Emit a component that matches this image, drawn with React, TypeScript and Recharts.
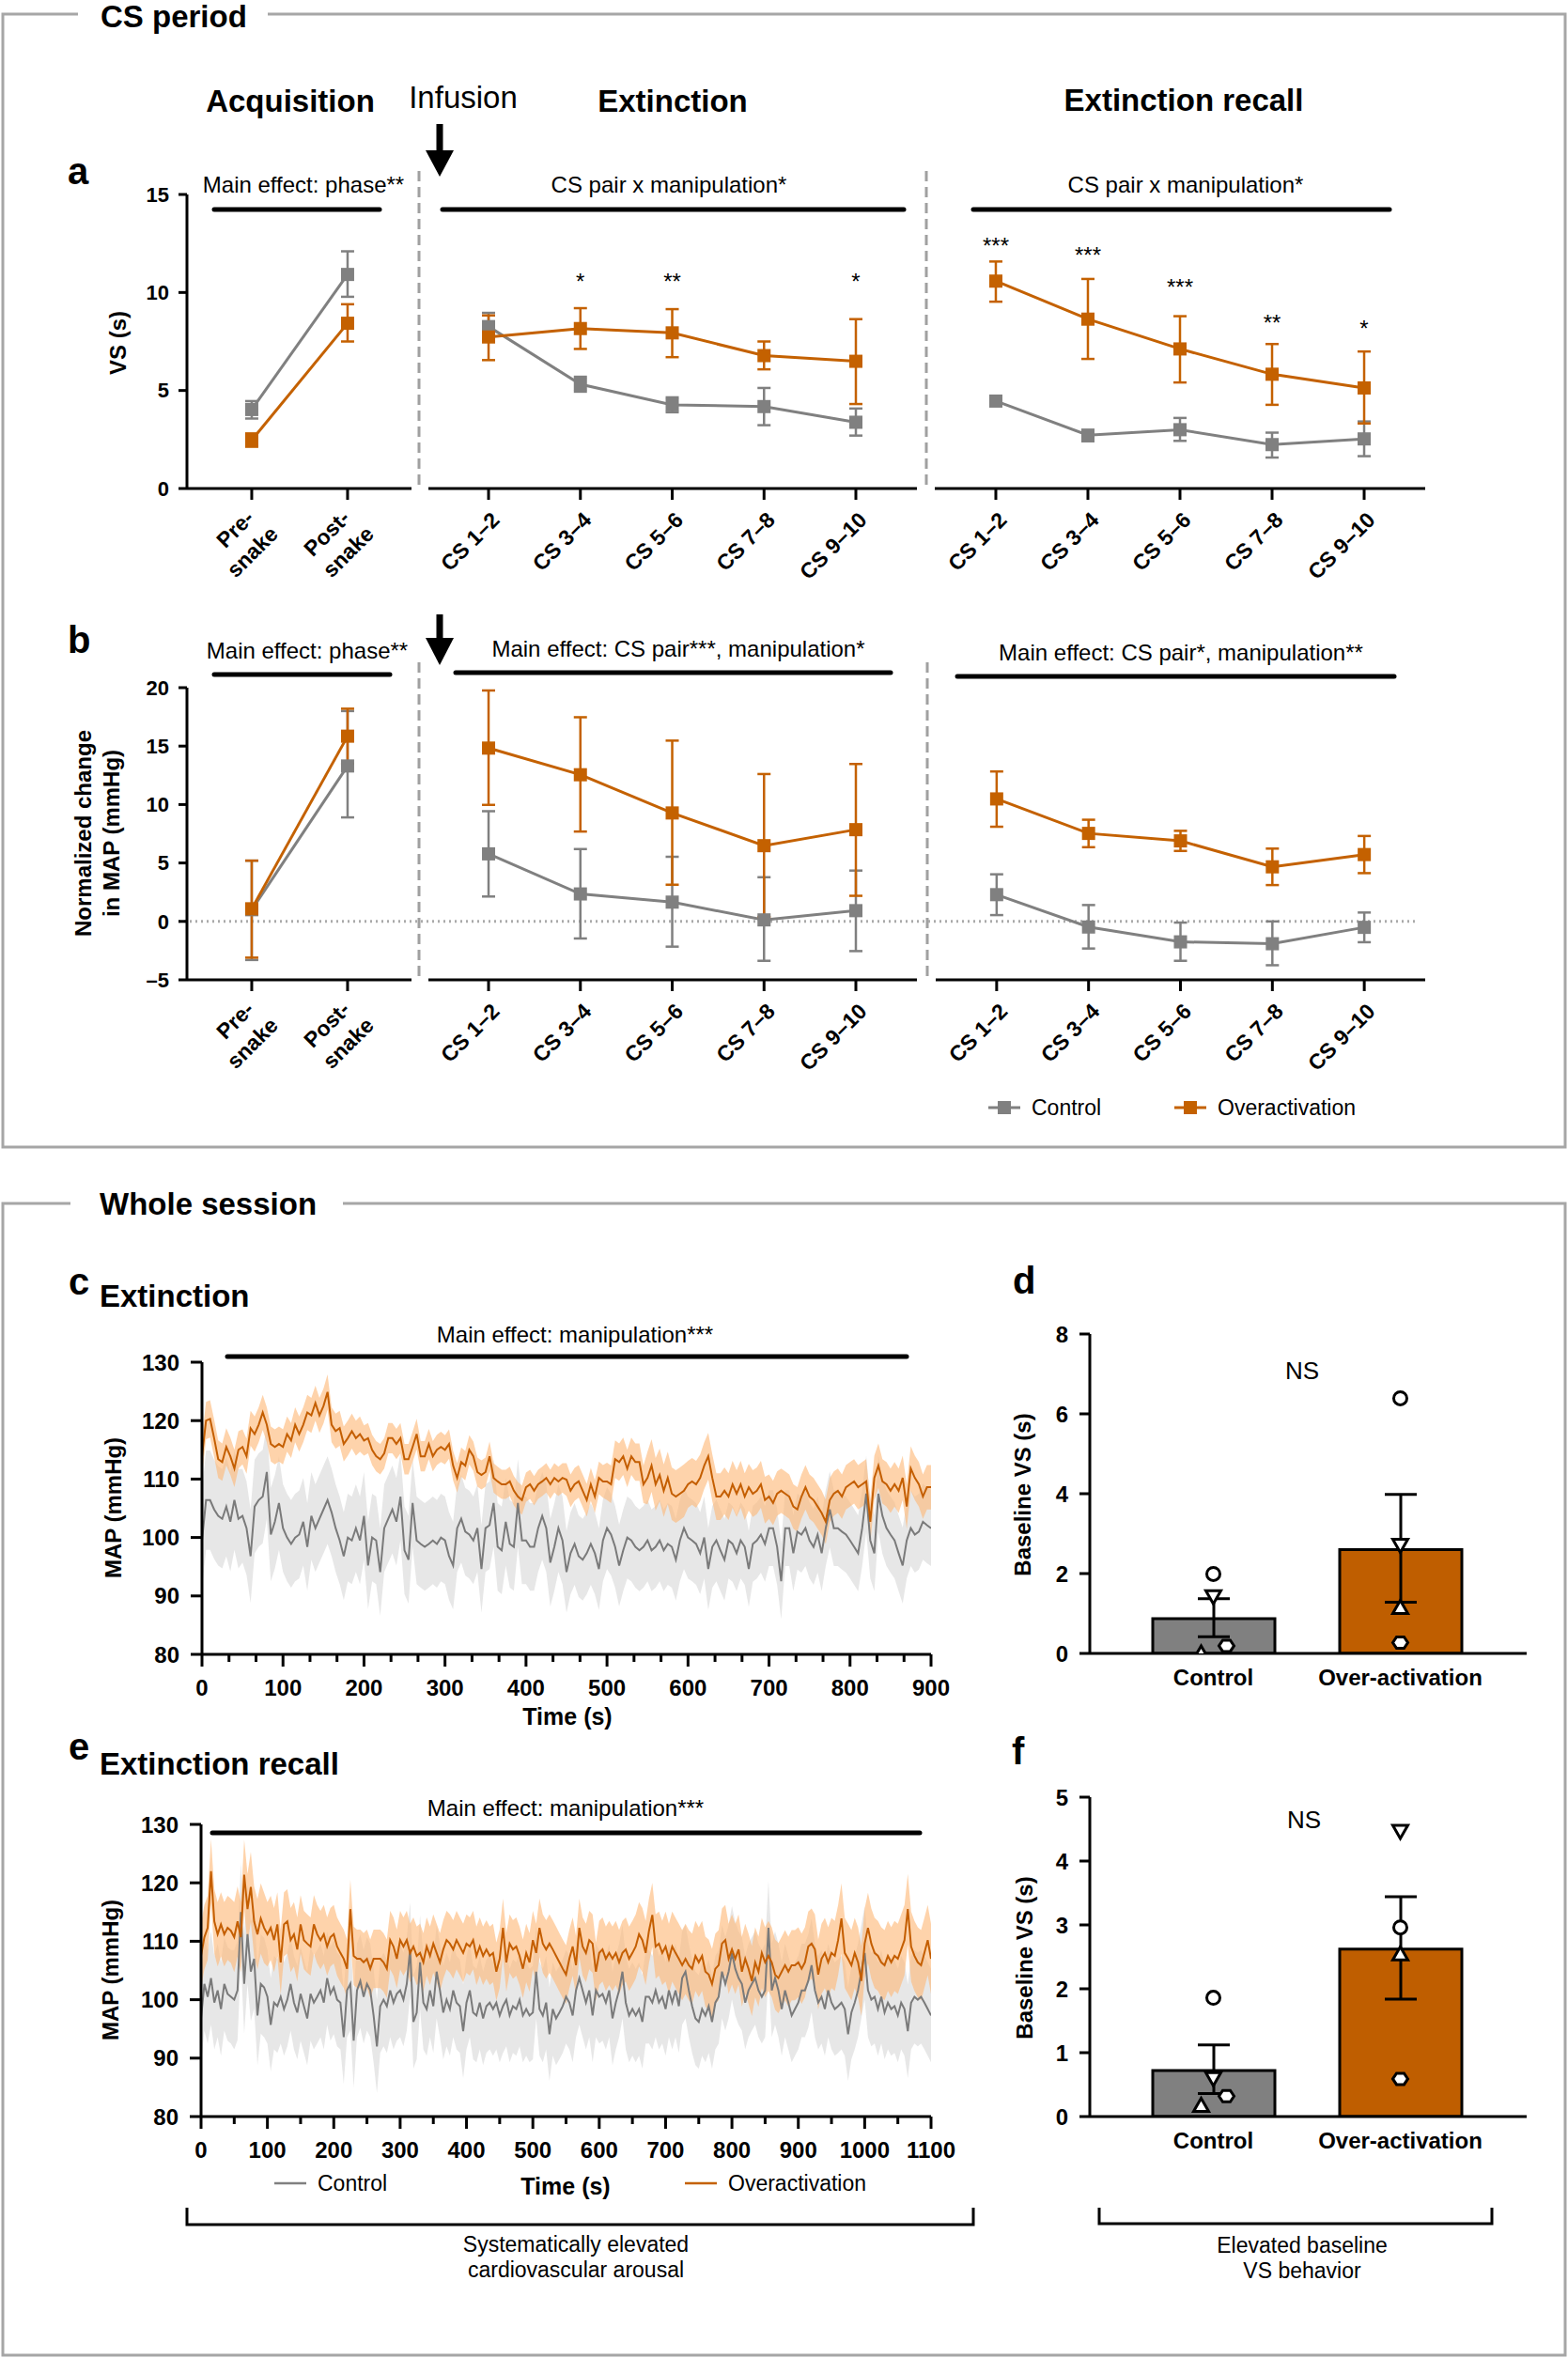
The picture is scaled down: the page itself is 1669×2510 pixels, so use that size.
import React from 'react';
import { ComposedChart, Line, Area, Bar, Cell, XAxis, YAxis, ErrorBar } from 'recharts';

// ─── Style ────────────────────────────────────────────────────────────────────
const FONT = "'Liberation Sans', Arial, Helvetica, sans-serif";
const ORANGE = '#C46100';
const GRAY = '#808080';
const BAR_ORANGE = '#BF5E00';
const BORDER = '#A6A6A6';

// ─── Data: CS period ─────────────────────────────────────────────────────────
const PHASES = ['Pre-\nsnake', 'Post-\nsnake'];
const CS_PAIRS = ['CS 1–2', 'CS 3–4', 'CS 5–6', 'CS 7–8', 'CS 9–10'];

// a — VS (s)
const VS_ACQ_CTL = [4.03, 10.92];
const VS_ACQ_CTL_LO = [3.57, 9.78];
const VS_ACQ_CTL_HI = [4.46, 12.1];
const VS_ACQ_OVR = [2.47, 8.43];
const VS_ACQ_OVR_LO = [2.13, 7.5];
const VS_ACQ_OVR_HI = [2.81, 9.4];

const VS_EXT_CTL = [8.26, 5.32, 4.27, 4.18, 3.38];
const VS_EXT_CTL_LO = [7.6, 4.94, 3.89, 3.23, 2.7];
const VS_EXT_CTL_HI = [8.96, 5.7, 4.65, 5.13, 4.08];
const VS_EXT_OVR = [7.73, 8.16, 7.94, 6.78, 6.49];
const VS_EXT_OVR_LO = [6.55, 7.12, 6.7, 6.08, 4.31];
const VS_EXT_OVR_HI = [8.83, 9.2, 9.15, 7.5, 8.64];
const VS_EXT_STARS = ['', '*', '**', '', '*'];

const VS_REC_CTL = [4.46, 2.72, 3.0, 2.24, 2.53];
const VS_REC_CTL_LO = [4.36, 2.41, 2.43, 1.58, 1.65];
const VS_REC_CTL_HI = [4.56, 2.98, 3.6, 2.85, 3.42];
const VS_REC_OVR = [10.58, 8.64, 7.12, 5.83, 5.13];
const VS_REC_OVR_LO = [9.53, 6.61, 5.41, 4.27, 3.32];
const VS_REC_OVR_HI = [11.58, 10.69, 8.79, 7.37, 6.99];
const VS_REC_STARS = ['***', '***', '***', '**', '*'];

// b — normalized change in MAP (mmHg)
const MAP_ACQ_CTL = [1.0, 13.3];
const MAP_ACQ_CTL_LO = [-3.3, 8.9];
const MAP_ACQ_CTL_HI = [5.2, 18.0];
const MAP_ACQ_OVR = [1.08, 15.85];
const MAP_ACQ_OVR_LO = [-3.1, 13.5];
const MAP_ACQ_OVR_HI = [5.2, 18.2];

const MAP_EXT_CTL = [5.78, 2.35, 1.65, 0.13, 0.92];
const MAP_EXT_CTL_LO = [2.13, -1.46, -2.16, -3.37, -2.54];
const MAP_EXT_CTL_HI = [9.43, 6.19, 5.53, 3.78, 4.35];
const MAP_EXT_OVR = [14.83, 12.55, 9.28, 6.48, 7.85];
const MAP_EXT_OVR_LO = [9.97, 7.69, 3.14, 0.38, 2.19];
const MAP_EXT_OVR_HI = [19.76, 17.47, 15.47, 12.61, 13.47];

const MAP_REC_CTL = [2.29, -0.48, -1.75, -1.91, -0.51];
const MAP_REC_CTL_LO = [0.54, -2.32, -3.37, -3.75, -1.78];
const MAP_REC_CTL_HI = [4.03, 1.4, -0.1, 0.0, 0.76];
const MAP_REC_OVR = [10.48, 7.53, 6.89, 4.67, 5.72];
const MAP_REC_OVR_LO = [8.1, 6.35, 6.03, 3.11, 4.13];
const MAP_REC_OVR_HI = [12.83, 8.7, 7.75, 6.23, 7.31];

// ─── Data: whole session, MAP traces (one value every 5 s) ───────────────────
const STEP_S = 5;
const SEM_BLOCK_S = 50;

const C_CTL = [
  99.5, 106.4, 106.4, 104.8, 103.7, 103.2, 105.3, 102.7, 106.4, 103.2,
  103.7, 101.6, 96.8, 105.3, 106.4, 107, 111.2, 100.5, 102.7, 105.9,
  101.6, 100, 98.9, 100, 100.5, 102.7, 98.4, 103.7, 101.6, 103.2,
  104.8, 106.4, 104.3, 101.6, 99.5, 96.8, 100, 99.5, 101.6, 99.5,
  103.7, 95.2, 100, 99.5, 94.1, 101.6, 103.2, 104.8, 102.7, 107,
  97.8, 96.2, 105.9, 99.5, 98.9, 98.4, 98.9, 99.5, 98.9, 100,
  99.5, 96.8, 95.2, 101.6, 103.2, 101, 100.5, 99.5, 101.6, 94.6,
  101.6, 102.1, 105.9, 98.4, 97.8, 102.7, 98.9, 98.4, 105.9, 99.5,
  99.5, 98.4, 98.4, 101.6, 103.7, 101.6, 95.7, 98.4, 101.6, 99.5,
  94.1, 97.3, 98.9, 96.8, 96.2, 97.3, 98.9, 97.3, 94.6, 99.5,
  101.6, 100.5, 98.4, 95.2, 97.8, 100, 99.5, 98.4, 97.8, 98.4,
  99.5, 97.8, 98.4, 99.5, 97.8, 98.9, 98.4, 96.2, 99.5, 101.6,
  100, 99.5, 98.9, 97.3, 100, 94.6, 98.4, 99.5, 97.8, 96.2,
  99.5, 98.9, 97.3, 99.5, 98.4, 94.6, 98.9, 99.5, 100.5, 98.9,
  101.6, 101.6, 98.4, 92.5, 101.6, 101.6, 97.3, 101, 100.5, 101.6,
  99.5, 98.4, 100.5, 97.3, 101.6, 104.8, 101.6, 101.6, 101, 100.5,
  99.5, 98.4, 97.3, 101.6, 107.5, 99.5, 97.3, 107.5, 103.7, 101.6,
  100.5, 99.5, 97.3, 95.2, 99.5, 101.6, 100.5, 101, 102.7, 102.1,
  101.6,
];
const C_OVR = [
  113.9, 120, 120.3, 117, 113.4, 112.9, 115.5, 113.9, 111.8, 115,
  115.5, 113.9, 118.7, 117.7, 119.3, 121.4, 119.3, 116, 115.5, 116,
  115.5, 117.7, 116.6, 119.3, 117.7, 119.3, 121.4, 120.9, 123, 120.9,
  122.5, 124.9, 119.3, 118.2, 118.7, 116, 117, 118.2, 117, 117.7,
  116.6, 117, 115, 113.9, 113.4, 114.4, 117, 117, 116, 117,
  113.4, 113.4, 115.5, 117.7, 113.9, 113.9, 116, 113.9, 115, 115.5,
  115, 116, 112.3, 110.2, 112.9, 112.3, 115, 113.9, 111.2, 110.7,
  111.2, 113.9, 110.2, 109.6, 109.1, 109.1, 109.6, 108, 107, 106.4,
  108.6, 109.1, 108, 109.1, 109.6, 110.2, 109.1, 110.2, 109.6, 110.2,
  109.9, 108, 109.1, 109.6, 108, 106.4, 109.1, 107, 110.2, 109.6,
  109.6, 109.1, 113.4, 112.9, 113.9, 111.8, 113.9, 112.9, 112.9, 109.1,
  110.2, 112.3, 109.1, 110.7, 108, 110.2, 107.5, 107, 107.5, 108,
  109.1, 109.6, 109.1, 110.2, 112.3, 113.9, 110.2, 107, 107, 108,
  107, 109.1, 107.5, 109.1, 107, 108.6, 107.5, 108, 109.1, 106.4,
  107, 105.9, 107.5, 108, 107.5, 107, 105.3, 104.8, 107, 108.6,
  107, 106.4, 105.3, 104.2, 102.7, 106.4, 107.5, 108, 107, 108.6,
  109.1, 109.6, 108.6, 109.1, 109.6, 102.7, 110.2, 112.3, 109.6, 109.1,
  108, 109.1, 108, 110.2, 105.3, 111.8, 110.2, 109.1, 107, 108.6,
  108.6,
];
// SEM half-width per 50 s block
const C_CTL_SEM = [8.5, 8, 7.5, 7.5, 7.5, 7.5, 7.5, 7.5, 7.5, 7, 7, 7, 7, 6.5, 6.5, 6.5, 6.5, 6.5, 6.5];
const C_OVR_SEM = [3.2, 3, 3, 3, 2.6, 2.6, 2.5, 2.5, 2.5, 2.8, 3.2, 4.5, 4, 4, 3.8, 3.8, 3.8, 3.8, 3.8];
const C_TIME_LABELS = [0, 100, 200, 300, 400, 500, 600, 700, 800, 900];

const E_CTL = [
  96.8, 102.7, 100.5, 103.7, 99.5, 101.6, 98.4, 102.7, 101, 100.5,
  100, 101.6, 115, 102.7, 111.2, 104.8, 107, 97.3, 102.7, 102.1,
  100.5, 95.7, 99.5, 98.9, 100.5, 98.4, 100, 102.7, 99.5, 97.8,
  101, 98.9, 96.8, 101, 99.5, 100.5, 101.6, 99.5, 103.7, 101,
  102.1, 100, 99.5, 93.6, 101.6, 102.7, 93, 101.6, 103.2, 100.5,
  102.7, 101.6, 97.3, 92, 98.9, 100, 98.9, 101.6, 99.5, 101,
  101.6, 100, 102.7, 108.6, 96.2, 97.8, 106.4, 99.5, 98.4, 101.6,
  98.9, 104.8, 101.6, 97.8, 100, 98.4, 101.6, 99.5, 98.9, 94.6,
  99.5, 101.6, 97.8, 97.3, 99.5, 96.8, 98.9, 99.5, 98.4, 99.5,
  97.3, 98.9, 100, 97.3, 98.9, 98.4, 100, 97.3, 98.4, 97.3,
  97.8, 104.8, 98.4, 97.3, 99.5, 94.1, 98.4, 96.8, 97.8, 98.9,
  100.5, 99.5, 97.3, 101.6, 103.7, 101.6, 99.5, 101.6, 97.3, 101.6,
  100.5, 101, 99.5, 101.6, 96.8, 99.5, 101.6, 104.8, 99.5, 97.3,
  98.4, 97.3, 98.4, 96.2, 100.5, 100.5, 99.5, 101.6, 99.5, 100.5,
  98.4, 101.6, 99.5, 101.6, 98.9, 103.7, 104.8, 101.6, 98.9, 96.8,
  96.2, 98.4, 97.3, 98.9, 96.2, 99.5, 100.5, 104.8, 102.7, 104.8,
  108, 105.3, 103.7, 102.7, 99.5, 101.6, 102.7, 103.7, 101.6, 100.5,
  101.6, 112.3, 101.6, 103.7, 101.6, 98.4, 101.6, 99.5, 97.3, 98.4,
  99.5, 101.6, 101.6, 103.2, 105.9, 101.6, 99.5, 100.5, 98.4, 101.6,
  99.5, 98.4, 98.9, 99.5, 98.4, 94.1, 97.8, 99.5, 101.6, 104.8,
  108, 101.6, 100, 100.5, 98.4, 100.5, 97.8, 99.5, 98.4, 98.9,
  97.3, 99.5, 98.4, 94.6, 99.5, 100.5, 100, 100.5, 99.5, 98.4,
  97.3,
];
const E_OVR = [
  107.5, 110.7, 112.3, 122, 113.4, 111.2, 112.9, 111.2, 112.3, 111.8,
  110.7, 113.4, 110.7, 121.4, 115.5, 119.3, 113.4, 111.2, 113.9, 112.3,
  111.2, 112.3, 110.2, 112.9, 106.4, 112.9, 113.4, 110.2, 111.2, 108.6,
  112.9, 110.2, 109.6, 109.1, 112.9, 111.2, 110.2, 111.2, 109.1, 110.7,
  111.2, 109.1, 108, 107, 105.3, 115.5, 107.5, 107, 107, 106.4,
  107, 105.3, 107, 107, 107, 106.4, 105.3, 110.2, 109.1, 107,
  110.2, 109.1, 110.2, 108, 109.1, 107.5, 108, 106.4, 109.1, 107.5,
  109.6, 108, 106.4, 108.6, 110.2, 109.6, 108.6, 110.2, 109.1, 108,
  109.6, 109.1, 110.2, 107.5, 109.1, 107.5, 108.6, 107.5, 108, 104.8,
  107, 112.3, 106.4, 109.6, 108.6, 109.1, 107.5, 105.3, 108, 106.4,
  110.2, 108, 112.3, 109.6, 108.6, 109.6, 108.6, 107.5, 106.4, 105.3,
  104.3, 107, 109.1, 105.9, 112.3, 109.1, 108, 110.2, 109.6, 104.8,
  108, 108.6, 107, 108, 107, 108, 106.4, 108, 108.6, 107,
  108, 109.1, 111.2, 110.2, 108, 111.8, 114.5, 109.1, 109.6, 108,
  109.1, 107, 109.1, 108, 107, 105.9, 107, 105.9, 105.3, 107.5,
  106.4, 107.5, 104.8, 104.3, 102.7, 105.3, 105.9, 109.6, 110.2, 107,
  108.6, 107, 108.6, 104.8, 107, 105.3, 103.2, 106.4, 104.8, 108,
  106.4, 107.5, 106.4, 104.3, 103.7, 104.8, 105.9, 104.8, 105.9, 105.9,
  106.4, 105.3, 106.4, 109.1, 109.6, 108.6, 104.3, 107, 108, 106.4,
  108, 107.5, 110.2, 113.9, 108, 107, 105.9, 108, 106.4, 103.2,
  109.6, 112.3, 109.6, 108, 107.5, 106.4, 105.9, 107.5, 106.4, 107.5,
  107, 108.6, 110.2, 115.5, 109.1, 107.5, 106.4, 105.9, 108, 110.2,
  107,
];
const E_CTL_SEM = [8, 8.5, 8, 8, 8, 8, 8, 8, 8, 8, 8, 8, 8, 8, 8, 8, 8, 8, 8, 8, 8, 8, 8];
const E_OVR_SEM = [5.5, 6, 5.5, 5, 5, 5, 5, 5, 5, 5, 5, 5, 5.5, 5.5, 6, 6, 6, 6, 6, 6, 6, 6, 6];
const E_TIME_LABELS = [0, 100, 200, 300, 400, 500, 600, 700, 800, 900, 1000, 1100];

// ─── Data: baseline VS (d, f) ─────────────────────────────────────────────────
const GROUPS = ['Control', 'Over-activation'];
const SUBJECT_KEYS = ['circle', 'down', 'up', 'hex'];
const D_MEAN = [0.87, 2.6];
const D_LO = [0.42, 1.28];
const D_HI = [1.37, 3.98];
const D_CTL_PTS = [1.99, 1.43, 0.0, 0.19];
const D_OVR_PTS = [6.39, 2.72, 1.14, 0.27];
const F_MEAN = [0.72, 2.62];
const F_LO = [0.36, 1.84];
const F_HI = [1.12, 3.44];
const F_CTL_PTS = [1.86, 0.6, 0.17, 0.32];
const F_OVR_PTS = [2.96, 4.47, 2.54, 0.59];

// ─── Layout helpers ───────────────────────────────────────────────────────────
type Rect = { x: number; y: number; w: number; h: number };
const PAD = 24;
const PAD_R = 48;

function frame(plot: Rect, yAxisW: number, xAxisH: number) {
  return {
    style: { position: 'absolute' as const, left: plot.x - yAxisW - PAD, top: plot.y - PAD },
    width: plot.w + yAxisW + PAD + PAD_R,
    height: plot.h + xAxisH + 2 * PAD,
    margin: { top: PAD, right: PAD_R, bottom: PAD, left: PAD },
  };
}

const A_ACQ: Rect = { x: 199, y: 207, w: 239, h: 313 };
const A_EXT: Rect = { x: 456, y: 207, w: 520, h: 313 };
const A_REC: Rect = { x: 995, y: 207, w: 522, h: 313 };
const B_ACQ: Rect = { x: 199, y: 732, w: 239, h: 311 };
const B_EXT: Rect = { x: 456, y: 732, w: 520, h: 311 };
const B_REC: Rect = { x: 996, y: 732, w: 521, h: 311 };
const C_PLOT: Rect = { x: 215, y: 1450, w: 776, h: 311 };
const D_PLOT: Rect = { x: 1160, y: 1420, w: 465, h: 340 };
const E_PLOT: Rect = { x: 214, y: 1942, w: 777, h: 311 };
const F_PLOT: Rect = { x: 1160, y: 1913, w: 465, h: 340 };

const ACQ_X = [-0.676, 1.667];
const EXT_X = [-0.655, 4.665];
const REC_X = [-0.663, 4.663];

const AXIS = { stroke: '#000', strokeWidth: 3 };
const TICK_FONT = { fontSize: 22, fontWeight: 'bold', fill: '#000', fontFamily: FONT };

// ─── Building tables ──────────────────────────────────────────────────────────
function catRows(
  ctl: number[], ctlLo: number[], ctlHi: number[],
  ovr: number[], ovrLo: number[], ovrHi: number[],
  stars?: string[], starAt?: number[],
) {
  return ctl.map((v, i) => ({
    x: i,
    ctl: v,
    ctlErr: [v - ctlLo[i], ctlHi[i] - v],
    ovr: ovr[i],
    ovrErr: [ovr[i] - ovrLo[i], ovrHi[i] - ovr[i]],
    star: stars ? stars[i] : '',
    starY: stars && stars[i] && starAt ? starAt[i] : null,
  }));
}

function traceRows(ctl: number[], ovr: number[], ctlSem: number[], ovrSem: number[]) {
  return ctl.map((v, i) => {
    const t = i * STEP_S;
    const b = Math.floor(t / SEM_BLOCK_S);
    return {
      t,
      ctl: v,
      ovr: ovr[i],
      ctlBand: [v - ctlSem[b], v + ctlSem[b]],
      ovrBand: [ovr[i] - ovrSem[b], ovr[i] + ovrSem[b]],
    };
  });
}

function barRows(mean: number[], lo: number[], hi: number[], ctlPts: number[], ovrPts: number[]) {
  return GROUPS.map((g, i) => {
    const pts = i === 0 ? ctlPts : ovrPts;
    const row: any = { g, mean: mean[i], err: [mean[i] - lo[i], hi[i] - mean[i]] };
    SUBJECT_KEYS.forEach((k, j) => { row[k] = pts[j]; });
    return row;
  });
}

function withMinor(labels: number[], parts: number) {
  const out: number[] = [];
  for (let i = 0; i < labels.length - 1; i++) {
    for (let j = 0; j < parts; j++) out.push(labels[i] + ((labels[i + 1] - labels[i]) * j) / parts);
  }
  out.push(labels[labels.length - 1]);
  return out;
}

// ─── Ticks & marks ────────────────────────────────────────────────────────────
const SlantTick = (p: any) => {
  const lines = String(p.labels[p.payload.value] ?? '').split('\n');
  return (
    <g transform={`translate(${p.x + 13},${p.y + 23}) rotate(-45)`}>
      <text textAnchor="end" fontSize={23} fontWeight="bold" fill="#000" fontFamily={FONT}>
        {lines.length === 1
          ? <tspan x={0} y={0}>{lines[0]}</tspan>
          : lines.map((l, i) => (
            <tspan key={i} x={i === 0 ? -5 : 1} y={i === 0 ? -8 : 22}>{l}</tspan>
          ))}
      </text>
    </g>
  );
};

const TimeTick = (p: any) => {
  const v = p.payload.value;
  const major = Math.abs(v / 100 - Math.round(v / 100)) < 1e-6;
  return (
    <g>
      <line x1={p.x} x2={p.x} y1={p.y} y2={p.y + (major ? 13 : 8)} stroke="#000" strokeWidth={3} />
      {major && (
        <text x={p.x} y={p.y + 44} textAnchor="middle" fontSize={24} fontWeight="bold" fill="#000" fontFamily={FONT}>
          {Math.round(v)}
        </text>
      )}
    </g>
  );
};

const GroupTick = (p: any) => (
  <text x={p.x} y={p.y + 34} textAnchor="middle" fontSize={24} fontWeight="bold" fill="#000" fontFamily={FONT}>
    {p.payload.value}
  </text>
);

const squareDot = (color: string) => (p: any) => {
  if (p.cx == null || p.cy == null) return <g key={`n${p.index}`} />;
  return <rect key={`s${p.index}`} x={p.cx - 7} y={p.cy - 7} width={14} height={14} fill={color} />;
};

const starDot = (p: any) => {
  if (p.cy == null || !p.payload.star) return <g key={`n${p.index}`} />;
  return (
    <text key={`t${p.index}`} x={p.cx} y={p.cy + 14} textAnchor="middle" fontSize={24} fill="#000" fontFamily={FONT}>
      {p.payload.star}
    </text>
  );
};

const JITTER: Record<string, number> = { up: -13, hex: 14 };
const subjectDot = (kind: string) => (p: any) => {
  if (p.cx == null || p.cy == null) return <g key={`n${p.index}`} />;
  const cx = p.cx + (p.payload.g === GROUPS[0] ? JITTER[kind] ?? 0 : 0);
  const cy = p.cy;
  const st = { fill: '#fff', stroke: '#000', strokeWidth: 3 };
  if (kind === 'circle') return <circle key={`c${p.index}`} cx={cx} cy={cy} r={7} {...st} />;
  if (kind === 'down') return <polygon key={`d${p.index}`} points={`${cx - 8},${cy - 6} ${cx + 8},${cy - 6} ${cx},${cy + 8}`} {...st} />;
  if (kind === 'up') return <polygon key={`u${p.index}`} points={`${cx - 8},${cy + 6} ${cx + 8},${cy + 6} ${cx},${cy - 8}`} {...st} />;
  return (
    <polygon
      key={`h${p.index}`}
      points={`${cx - 8},${cy} ${cx - 4},${cy - 6} ${cx + 4},${cy - 6} ${cx + 8},${cy} ${cx + 4},${cy + 6} ${cx - 4},${cy + 6}`}
      {...st}
    />
  );
};

// ─── CS-period panel (one phase) ─────────────────────────────────────────────
type CatProps = {
  plot: Rect; rows: any[]; labels: string[]; xDomain: number[];
  yDomain: number[]; yTicks?: number[]; showY?: boolean;
};

const CatPanel: React.FC<CatProps> = ({ plot, rows, labels, xDomain, yDomain, yTicks, showY }) => {
  const f = frame(plot, showY ? 70 : 0, 110);
  return (
    <div style={f.style}>
      <ComposedChart width={f.width} height={f.height} data={rows} margin={f.margin}>
        <XAxis
          dataKey="x" type="number" domain={xDomain} allowDataOverflow
          ticks={labels.map((_, i) => i)} interval={0}
          axisLine={AXIS} tickLine={AXIS} tickSize={12} tickMargin={0} height={110}
          tick={<SlantTick labels={labels} />}
        />
        {showY ? (
          <YAxis
            domain={yDomain} ticks={yTicks} allowDataOverflow width={70}
            axisLine={AXIS} tickLine={AXIS} tickSize={9} tickMargin={10} tick={TICK_FONT}
            tickFormatter={(v: number) => (v < 0 ? `–${Math.abs(v)}` : `${v}`)}
          />
        ) : (
          <YAxis hide domain={yDomain} allowDataOverflow />
        )}
        <Line
          dataKey="ctl" stroke={GRAY} strokeWidth={3} dot={squareDot(GRAY)} activeDot={false}
          isAnimationActive={false}
        >
          <ErrorBar dataKey="ctlErr" width={7} stroke={GRAY} strokeWidth={2.5} />
        </Line>
        <Line
          dataKey="ovr" stroke={ORANGE} strokeWidth={3} dot={squareDot(ORANGE)} activeDot={false}
          isAnimationActive={false}
        >
          <ErrorBar dataKey="ovrErr" width={7} stroke={ORANGE} strokeWidth={2.5} />
        </Line>
        <Line dataKey="starY" stroke="none" dot={starDot} activeDot={false} isAnimationActive={false} />
      </ComposedChart>
    </div>
  );
};

// ─── Whole-session MAP trace ─────────────────────────────────────────────────
type TraceProps = { plot: Rect; rows: any[]; xMax: number; labels: number[]; minorParts: number };

const TracePanel: React.FC<TraceProps> = ({ plot, rows, xMax, labels, minorParts }) => {
  const f = frame(plot, 70, 60);
  return (
    <div style={f.style}>
      <ComposedChart width={f.width} height={f.height} data={rows} margin={f.margin}>
        <XAxis
          dataKey="t" type="number" domain={[0, xMax]} allowDataOverflow
          ticks={withMinor(labels, minorParts)} interval={0}
          axisLine={AXIS} tickLine={false} tickSize={0} tickMargin={0} height={60}
          tick={<TimeTick />}
        />
        <YAxis
          domain={[80, 130]} ticks={[80, 90, 100, 110, 120, 130]} allowDataOverflow width={70}
          axisLine={AXIS} tickLine={AXIS} tickSize={12} tickMargin={12}
          tick={{ ...TICK_FONT, fontSize: 24 }}
        />
        <Area dataKey="ctlBand" stroke="none" fill="#E4E4E4" fillOpacity={0.9} isAnimationActive={false} activeDot={false} />
        <Area dataKey="ovrBand" stroke="none" fill="#FDB878" fillOpacity={0.62} isAnimationActive={false} activeDot={false} />
        <Line dataKey="ctl" stroke="#7A7A7A" strokeWidth={2} dot={false} activeDot={false} isAnimationActive={false} />
        <Line dataKey="ovr" stroke="#C45E00" strokeWidth={2} dot={false} activeDot={false} isAnimationActive={false} />
      </ComposedChart>
    </div>
  );
};

// ─── Baseline VS bars ─────────────────────────────────────────────────────────
type BarProps = { plot: Rect; rows: any[]; yMax: number; yTicks: number[] };

const BaselinePanel: React.FC<BarProps> = ({ plot, rows, yMax, yTicks }) => {
  const f = frame(plot, 70, 50);
  return (
    <div style={f.style}>
      <ComposedChart width={f.width} height={f.height} data={rows} margin={f.margin}>
        <XAxis
          dataKey="g" type="category" padding={{ left: 32, right: 35 }} interval={0}
          axisLine={AXIS} tickLine={false} tickSize={0} tickMargin={0} height={50}
          tick={<GroupTick />}
        />
        <YAxis
          domain={[0, yMax]} ticks={yTicks} allowDataOverflow width={70}
          axisLine={AXIS} tickLine={AXIS} tickSize={11} tickMargin={12}
          tick={{ ...TICK_FONT, fontSize: 24 }}
        />
        <Bar dataKey="mean" barSize={130} stroke="#000" strokeWidth={3} isAnimationActive={false}>
          {rows.map((_, i) => <Cell key={i} fill={i === 0 ? GRAY : BAR_ORANGE} />)}
          <ErrorBar dataKey="err" width={17} stroke="#000" strokeWidth={3} />
        </Bar>
        {SUBJECT_KEYS.map((k) => (
          <Line
            key={k} dataKey={k} stroke="none" dot={subjectDot(k)} activeDot={false}
            isAnimationActive={false}
          />
        ))}
      </ComposedChart>
    </div>
  );
};

// ─── Figure annotations ───────────────────────────────────────────────────────
const T: React.FC<any> = (props) => <text fontFamily={FONT} fill="#000" {...props} />;

const Arrow: React.FC<{ x: number; top: number; headTop: number; bottom: number }> = ({ x, top, headTop, bottom }) => (
  <g>
    <rect x={x - 3.5} y={top} width={7} height={headTop - top + 2} fill="#000" />
    <polygon points={`${x - 15},${headTop} ${x + 15},${headTop} ${x},${bottom}`} fill="#000" />
  </g>
);

const StatBar: React.FC<{ x1: number; x2: number; y: number }> = ({ x1, x2, y }) => (
  <line x1={x1} x2={x2} y1={y} y2={y} stroke="#000" strokeWidth={5} strokeLinecap="round" />
);

const VLabel: React.FC<{ x: number; y: number; children: React.ReactNode }> = ({ x, y, children }) => (
  <T transform={`translate(${x} ${y}) rotate(-90)`} textAnchor="middle" dominantBaseline="central" fontSize={24} fontWeight="bold">
    {children}
  </T>
);

const Overlay: React.FC = () => {
  const zeroY = B_ACQ.y + (20 / 25) * B_ACQ.h;
  return (
    <svg width={1669} height={2510} style={{ position: 'absolute', left: 0, top: 0 }}>
      {/* frames */}
      <path d="M83 15 H3 V1221 H1666 V15 H285" fill="none" stroke={BORDER} strokeWidth={3} />
      <path d="M75 1281 H3 V2507 H1666 V1281 H365" fill="none" stroke={BORDER} strokeWidth={3} />
      <T x={107} y={29} fontSize={33} fontWeight="bold">CS period</T>
      <T x={106} y={1293} fontSize={33} fontWeight="bold">Whole session</T>

      {/* phase headings */}
      <T x={309} y={119} fontSize={33} fontWeight="bold" textAnchor="middle">Acquisition</T>
      <T x={493} y={115} fontSize={33} textAnchor="middle">Infusion</T>
      <T x={716} y={119} fontSize={33} fontWeight="bold" textAnchor="middle">Extinction</T>
      <T x={1260} y={118} fontSize={33} fontWeight="bold" textAnchor="middle">Extinction recall</T>

      {/* panel a */}
      <T x={72} y={196} fontSize={40} fontWeight="bold">a</T>
      <Arrow x={468} top={132} headTop={160} bottom={188} />
      <T x={323} y={205} fontSize={24} textAnchor="middle">Main effect: phase**</T>
      <T x={712} y={205} fontSize={24} textAnchor="middle">CS pair x manipulation*</T>
      <T x={1262} y={205} fontSize={24} textAnchor="middle">CS pair x manipulation*</T>
      <StatBar x1={228} x2={404} y={223} />
      <StatBar x1={471} x2={962} y={223} />
      <StatBar x1={1036} x2={1479} y={223} />
      <line x1={446} x2={446} y1={182} y2={520} stroke="#A0A0A0" strokeWidth={3} strokeDasharray="11 6" />
      <line x1={986} x2={986} y1={182} y2={520} stroke="#A0A0A0" strokeWidth={3} strokeDasharray="11 6" />
      <VLabel x={125} y={365}>VS (s)</VLabel>

      {/* panel b */}
      <T x={72} y={695} fontSize={40} fontWeight="bold">b</T>
      <Arrow x={468} top={654} headTop={679} bottom={708} />
      <T x={327} y={701} fontSize={24} textAnchor="middle">Main effect: phase**</T>
      <T x={722} y={699} fontSize={24} textAnchor="middle">Main effect: CS pair***, manipulation*</T>
      <T x={1257} y={703} fontSize={24} textAnchor="middle">Main effect: CS pair*, manipulation**</T>
      <StatBar x1={228} x2={415} y={718} />
      <StatBar x1={485} x2={948} y={716} />
      <StatBar x1={1019} x2={1484} y={720} />
      <line x1={446} x2={446} y1={705} y2={1045} stroke="#A0A0A0" strokeWidth={3} strokeDasharray="11 6" />
      <line x1={987} x2={987} y1={705} y2={1045} stroke="#A0A0A0" strokeWidth={3} strokeDasharray="11 6" />
      <line x1={190} x2={1507} y1={zeroY} y2={zeroY} stroke="#AAAAAA" strokeWidth={3} strokeDasharray="2 4" />
      <VLabel x={88} y={887}>Normalized change</VLabel>
      <VLabel x={118} y={887}>in MAP (mmHg)</VLabel>
      <line x1={1052} x2={1086} y1={1179} y2={1179} stroke={GRAY} strokeWidth={3} />
      <rect x={1062} y={1172} width={14} height={14} fill={GRAY} />
      <T x={1098} y={1187} fontSize={23}>Control</T>
      <line x1={1250} x2={1284} y1={1179} y2={1179} stroke={ORANGE} strokeWidth={3} />
      <rect x={1260} y={1172} width={14} height={14} fill={ORANGE} />
      <T x={1296} y={1187} fontSize={23}>Overactivation</T>

      {/* panel c */}
      <T x={73} y={1378} fontSize={40} fontWeight="bold">c</T>
      <T x={106} y={1391} fontSize={33} fontWeight="bold">Extinction</T>
      <T x={612} y={1429} fontSize={24} textAnchor="middle">Main effect: manipulation***</T>
      <StatBar x1={242} x2={965} y={1444} />
      <T x={604} y={1836} fontSize={25} fontWeight="bold" textAnchor="middle">Time (s)</T>
      <VLabel x={120} y={1605}>MAP (mmHg)</VLabel>

      {/* panel d */}
      <T x={1078} y={1377} fontSize={40} fontWeight="bold">d</T>
      <T x={1386} y={1468} fontSize={26} textAnchor="middle">NS</T>
      <VLabel x={1088} y={1591}>Baseline VS (s)</VLabel>

      {/* panel e */}
      <T x={73} y={1873} fontSize={40} fontWeight="bold">e</T>
      <T x={106} y={1889} fontSize={33} fontWeight="bold">Extinction recall</T>
      <T x={602} y={1933} fontSize={24} textAnchor="middle">Main effect: manipulation***</T>
      <StatBar x1={226} x2={979} y={1951} />
      <T x={602} y={2336} fontSize={25} fontWeight="bold" textAnchor="middle">Time (s)</T>
      <VLabel x={117} y={2097}>MAP (mmHg)</VLabel>
      <line x1={292} x2={326} y1={2324} y2={2324} stroke={GRAY} strokeWidth={2.5} />
      <T x={338} y={2332} fontSize={23}>Control</T>
      <line x1={729} x2={763} y1={2324} y2={2324} stroke={ORANGE} strokeWidth={2.5} />
      <T x={775} y={2332} fontSize={23}>Overactivation</T>
      <path d="M199 2350 V2368 H1036 V2350" fill="none" stroke="#000" strokeWidth={3} />
      <T x={613} y={2397} fontSize={23} textAnchor="middle">Systematically elevated</T>
      <T x={613} y={2424} fontSize={23} textAnchor="middle">cardiovascular arousal</T>

      {/* panel f */}
      <T x={1077} y={1878} fontSize={40} fontWeight="bold">f</T>
      <T x={1388} y={1946} fontSize={26} textAnchor="middle">NS</T>
      <VLabel x={1090} y={2084}>Baseline VS (s)</VLabel>
      <path d="M1170 2350 V2367 H1588 V2350" fill="none" stroke="#000" strokeWidth={3} />
      <T x={1386} y={2398} fontSize={23} textAnchor="middle">Elevated baseline</T>
      <T x={1386} y={2425} fontSize={23} textAnchor="middle">VS behavior</T>
    </svg>
  );
};

// ─── App ──────────────────────────────────────────────────────────────────────
export default function App() {
  const vsAcq = catRows(VS_ACQ_CTL, VS_ACQ_CTL_LO, VS_ACQ_CTL_HI, VS_ACQ_OVR, VS_ACQ_OVR_LO, VS_ACQ_OVR_HI);
  const vsExt = catRows(VS_EXT_CTL, VS_EXT_CTL_LO, VS_EXT_CTL_HI, VS_EXT_OVR, VS_EXT_OVR_LO, VS_EXT_OVR_HI,
    VS_EXT_STARS, [10.83, 10.83, 10.83, 10.83, 10.83]);
  const vsRec = catRows(VS_REC_CTL, VS_REC_CTL_LO, VS_REC_CTL_HI, VS_REC_OVR, VS_REC_OVR_LO, VS_REC_OVR_HI,
    VS_REC_STARS, [12.65, 12.17, 10.54, 8.72, 8.43]);
  const mapAcq = catRows(MAP_ACQ_CTL, MAP_ACQ_CTL_LO, MAP_ACQ_CTL_HI, MAP_ACQ_OVR, MAP_ACQ_OVR_LO, MAP_ACQ_OVR_HI);
  const mapExt = catRows(MAP_EXT_CTL, MAP_EXT_CTL_LO, MAP_EXT_CTL_HI, MAP_EXT_OVR, MAP_EXT_OVR_LO, MAP_EXT_OVR_HI);
  const mapRec = catRows(MAP_REC_CTL, MAP_REC_CTL_LO, MAP_REC_CTL_HI, MAP_REC_OVR, MAP_REC_OVR_LO, MAP_REC_OVR_HI);

  return (
    <div style={{ position: 'absolute', left: 0, top: 0, width: 1669, height: 2510, background: '#fff', fontFamily: FONT }}>
      <Overlay />
      <CatPanel plot={A_ACQ} rows={vsAcq} labels={PHASES} xDomain={ACQ_X} yDomain={[0, 15]} yTicks={[0, 5, 10, 15]} showY />
      <CatPanel plot={A_EXT} rows={vsExt} labels={CS_PAIRS} xDomain={EXT_X} yDomain={[0, 15]} />
      <CatPanel plot={A_REC} rows={vsRec} labels={CS_PAIRS} xDomain={REC_X} yDomain={[0, 15]} />
      <CatPanel plot={B_ACQ} rows={mapAcq} labels={PHASES} xDomain={ACQ_X} yDomain={[-5, 20]} yTicks={[-5, 0, 5, 10, 15, 20]} showY />
      <CatPanel plot={B_EXT} rows={mapExt} labels={CS_PAIRS} xDomain={EXT_X} yDomain={[-5, 20]} />
      <CatPanel plot={B_REC} rows={mapRec} labels={CS_PAIRS} xDomain={REC_X} yDomain={[-5, 20]} />
      <TracePanel plot={C_PLOT} rows={traceRows(C_CTL, C_OVR, C_CTL_SEM, C_OVR_SEM)} xMax={900} labels={C_TIME_LABELS} minorParts={3} />
      <TracePanel plot={E_PLOT} rows={traceRows(E_CTL, E_OVR, E_CTL_SEM, E_OVR_SEM)} xMax={1100} labels={E_TIME_LABELS} minorParts={2} />
      <BaselinePanel plot={D_PLOT} rows={barRows(D_MEAN, D_LO, D_HI, D_CTL_PTS, D_OVR_PTS)} yMax={8} yTicks={[0, 2, 4, 6, 8]} />
      <BaselinePanel plot={F_PLOT} rows={barRows(F_MEAN, F_LO, F_HI, F_CTL_PTS, F_OVR_PTS)} yMax={5} yTicks={[0, 1, 2, 3, 4, 5]} />
    </div>
  );
}
